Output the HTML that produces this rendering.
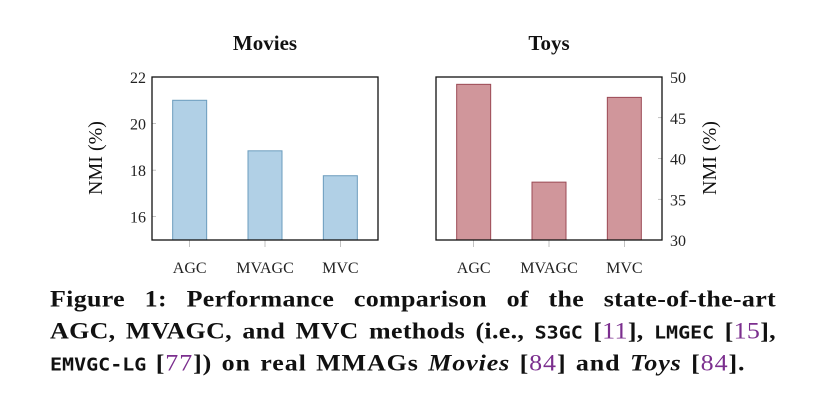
<!DOCTYPE html>
<html><head><meta charset="utf-8"><style>
body{margin:0;width:831px;height:407px;background:#fff;overflow:hidden;position:relative;font-family:"Liberation Serif",serif}
svg{position:absolute;left:0;top:0}
.cap{position:absolute;left:50px;width:726px;font:bold 26px "Liberation Serif",serif;color:#111;white-space:nowrap;text-align:justify;text-align-last:justify;line-height:32px;letter-spacing:0.3px;word-spacing:0px;transform:scaleY(0.9);transform-origin:0 0}
.m{font-family:"DejaVu Sans Mono",monospace;font-weight:bold;font-size:20px;letter-spacing:0}
.r{color:#7b2e8e;font-weight:normal}
</style></head><body>
<svg width="831" height="280" id="svg"></svg>
<div class="cap" style="top:285px">Figure 1: Performance comparison of the state-of-the-art</div>
<div class="cap" style="top:317px">AGC, MVAGC, and MVC methods (i.e., <span class="m">S3GC</span> [<span class="r">11</span>], <span class="m">LMGEC</span> [<span class="r">15</span>],</div>
<div class="cap" style="top:349px;text-align-last:left;width:auto;letter-spacing:0.9px;word-spacing:2px"><span class="m">EMVGC-LG</span> [<span class="r">77</span>]) on real MMAGs <i>Movies</i> [<span class="r">84</span>] and <i>Toys</i> [<span class="r">84</span>].</div>
<script>
const categories=["AGC","MVAGC","MVC"];
const moviesValues=[21.0,18.83,17.76];
const toysValues=[49.1,37.1,47.5];
const moviesTicks=[16,18,20,22];
const toysTicks=[30,35,40,45,50];
const NS="http://www.w3.org/2000/svg";
const svg=document.getElementById('svg');
function el(t,a,txt){const e=document.createElementNS(NS,t);for(const k in a)e.setAttribute(k,a[k]);if(txt!==undefined)e.textContent=txt;svg.appendChild(e);return e;}
function panel(name,x0,x1,ymin,ymax,vals,ticks,fill,stroke,right){
  const y0=240,y1=77;
  const ys=v=>y0-(v-ymin)/(ymax-ymin)*(y0-y1);
  const step=(x1-x0)/3;
  const xs=i=>x0+step*(i+0.5);
  ticks.forEach(t=>{
    const tx=right?x1:x0;
    const l=el('line',{x1:tx,x2:right?tx-4:tx+4,y1:ys(t),y2:ys(t),stroke:'#999','stroke-width':0.6});
    
    const tl=el('text',{x:right?x1+8:x0-6,y:ys(t)+6,'font-size':16,'text-anchor':right?'start':'end',fill:'#222','font-family':'Liberation Serif'},t);
    
  });
  vals.forEach((v,i)=>{
    const b=el('rect',{x:xs(i)-17,y:ys(v),width:34,height:y0-ys(v),fill:fill,stroke:stroke,'stroke-width':1});
    
    el('line',{x1:xs(i),x2:xs(i),y1:y0,y2:y0+7,stroke:'#999','stroke-width':0.6});
    const cl=el('text',{x:xs(i),y:y0+33,'font-size':16,'text-anchor':'middle',fill:'#222','font-family':'Liberation Serif'},categories[i]);
    
  });
  const f=el('rect',{x:x0,y:y1,width:x1-x0,height:y0-y1,fill:'none',stroke:'#111','stroke-width':1.3});
  
  const tt=el('text',{x:(x0+x1)/2,y:50,'font-size':21,'font-weight':'bold','text-anchor':'middle',fill:'#111','font-family':'Liberation Serif'},name==='movies'?'Movies':'Toys');
  
  const ax=right?x1+54:x0-50;
  const yt=el('text',{x:ax,y:158,'font-size':20,'text-anchor':'middle',fill:'#111','font-family':'Liberation Serif',transform:`rotate(-90 ${ax} 158)`},'NMI (%)');
  
}
panel('movies',152,378,15,22,moviesValues,moviesTicks,'#b1d0e6','#6b9cbd',false);
panel('toys',436,662,30,50,toysValues,toysTicks,'#d0969b','#9b4a55',true);
</script>
</body></html>
